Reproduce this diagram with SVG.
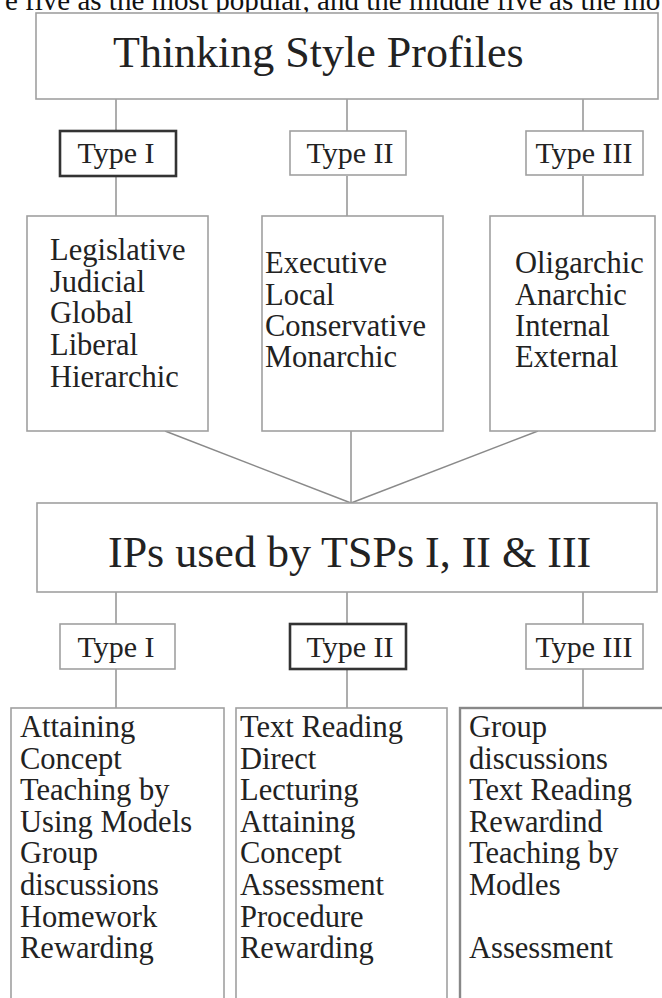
<svg xmlns="http://www.w3.org/2000/svg" width="662" height="998" viewBox="0 0 662 998">
<style>
text{font-family:"Liberation Serif","Times New Roman",serif;fill:#222}
.title{font-size:44px}
.lbl{font-size:30px;text-anchor:middle}
.item{font-size:30.5px}
.box{fill:#fff;stroke:#a0a0a0;stroke-width:1.6}
.bold{fill:#fff;stroke:#333;stroke-width:2.6}
.conn line{stroke:#8a8a8a;stroke-width:1.4}
.top{font-size:29px;fill:#111}
</style>
<rect width="662" height="998" fill="#fff"/>
<text class="top" x="5" y="10">e five as the most popular, and the middle five as the mo</text>

<g id="connectors" class="conn">
<line x1="116" y1="99" x2="116" y2="131"/>
<line x1="347" y1="99" x2="347" y2="131"/>
<line x1="583" y1="99" x2="583" y2="131"/>
<line x1="116" y1="176" x2="116" y2="216"/>
<line x1="347" y1="176" x2="347" y2="216"/>
<line x1="583" y1="176" x2="583" y2="216"/>
<line x1="165" y1="431" x2="351" y2="503"/>
<line x1="351" y1="431" x2="351" y2="503"/>
<line x1="538" y1="431" x2="351" y2="503"/>
<line x1="116" y1="592" x2="116" y2="624"/>
<line x1="347" y1="592" x2="347" y2="624"/>
<line x1="583" y1="592" x2="583" y2="624"/>
<line x1="116" y1="669" x2="116" y2="708"/>
<line x1="347" y1="669" x2="347" y2="708"/>
<line x1="583" y1="669" x2="583" y2="708"/>
</g>

<g id="tsp">
<rect class="box" x="36" y="13" width="622" height="86"/>
<text class="title" x="113" y="67">Thinking Style Profiles</text>
</g>

<g id="tsp-type1">
<rect class="bold" x="60" y="131" width="116" height="45"/>
<text class="lbl" x="116" y="163">Type I</text>
</g>
<g id="tsp-type2">
<rect class="box" x="290" y="131" width="116" height="44"/>
<text class="lbl" x="350" y="163">Type II</text>
</g>
<g id="tsp-type3">
<rect class="box" x="526" y="131" width="117" height="44"/>
<text class="lbl" x="584" y="163">Type III</text>
</g>

<g id="tsp-list1">
<rect class="box" x="27" y="216" width="181" height="215"/>
<text class="item" x="50" y="260">Legislative</text>
<text class="item" x="50" y="292">Judicial</text>
<text class="item" x="50" y="323">Global</text>
<text class="item" x="50" y="355">Liberal</text>
<text class="item" x="50" y="387">Hierarchic</text>
</g>
<g id="tsp-list2">
<rect class="box" x="262" y="216" width="181" height="215"/>
<text class="item" x="265" y="273">Executive</text>
<text class="item" x="265" y="305">Local</text>
<text class="item" x="265" y="336">Conservative</text>
<text class="item" x="265" y="367">Monarchic</text>
</g>
<g id="tsp-list3">
<rect class="box" x="490" y="216" width="165" height="215"/>
<text class="item" x="515" y="273">Oligarchic</text>
<text class="item" x="515" y="305">Anarchic</text>
<text class="item" x="515" y="336">Internal</text>
<text class="item" x="515" y="367">External</text>
</g>

<g id="ips">
<rect class="box" x="37" y="503" width="620" height="89"/>
<text class="title" x="108" y="567">IPs used by TSPs I, II &amp; III</text>
</g>

<g id="ip-type1">
<rect class="box" x="60" y="624" width="115" height="45"/>
<text class="lbl" x="116" y="657">Type I</text>
</g>
<g id="ip-type2">
<rect class="bold" x="290" y="624" width="116" height="45"/>
<text class="lbl" x="350" y="657">Type II</text>
</g>
<g id="ip-type3">
<rect class="box" x="526" y="624" width="117" height="45"/>
<text class="lbl" x="584" y="657">Type III</text>
</g>

<g id="ip-list1">
<rect class="box" x="11" y="708" width="213" height="300"/>
<text class="item" x="20" y="737">Attaining</text>
<text class="item" x="20" y="769">Concept</text>
<text class="item" x="20" y="800">Teaching by</text>
<text class="item" x="20" y="832">Using Models</text>
<text class="item" x="20" y="863">Group</text>
<text class="item" x="20" y="895">discussions</text>
<text class="item" x="20" y="927">Homework</text>
<text class="item" x="20" y="958">Rewarding</text>
</g>
<g id="ip-list2">
<rect class="box" x="236" y="708" width="211" height="300"/>
<text class="item" x="240" y="737">Text Reading</text>
<text class="item" x="240" y="769">Direct</text>
<text class="item" x="240" y="800">Lecturing</text>
<text class="item" x="240" y="832">Attaining</text>
<text class="item" x="240" y="863">Concept</text>
<text class="item" x="240" y="895">Assessment</text>
<text class="item" x="240" y="927">Procedure</text>
<text class="item" x="240" y="958">Rewarding</text>
</g>
<g id="ip-list3">
<rect class="box" x="460" y="708" width="220" height="300" style="stroke:#888;stroke-width:2.4"/>
<text class="item" x="469" y="737">Group</text>
<text class="item" x="469" y="769">discussions</text>
<text class="item" x="469" y="800">Text Reading</text>
<text class="item" x="469" y="832">Rewardind</text>
<text class="item" x="469" y="863">Teaching by</text>
<text class="item" x="469" y="895">Modles</text>
<text class="item" x="469" y="958">Assessment</text>
</g>
</svg>
